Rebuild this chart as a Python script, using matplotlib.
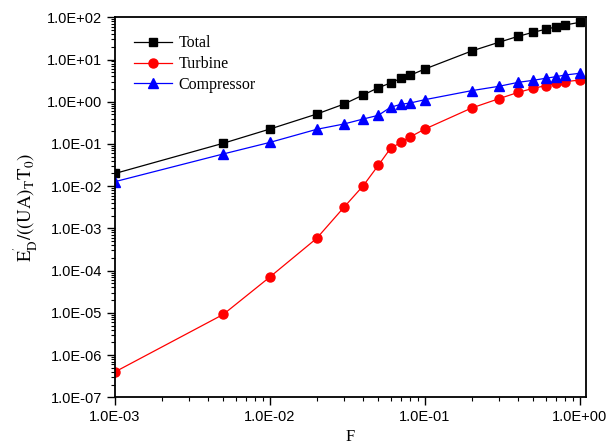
import numpy as np
import matplotlib
matplotlib.use('Agg')
import matplotlib.pyplot as plt
from matplotlib.ticker import LogLocator, FuncFormatter, NullFormatter

# Data
F = [0.001, 0.005, 0.01, 0.02, 0.03, 0.04, 0.05, 0.06, 0.07, 0.08,
     0.1, 0.2, 0.3, 0.4, 0.5, 0.6, 0.7, 0.8, 1.0]
total = [0.020, 0.104, 0.226, 0.51, 0.88, 1.45, 2.15, 2.78, 3.59, 4.23,
         5.96, 15.9, 25.6, 35.5, 44.2, 52.0, 59.0, 65.8, 76.0]
turbine = [4.0e-7, 9.2e-6, 7.1e-5, 5.8e-4, 3.16e-3, 0.0103, 0.0312, 0.079,
           0.109, 0.146, 0.226, 0.71, 1.18, 1.67, 2.08, 2.40, 2.73, 2.98, 3.27]
compressor = [0.0128, 0.058, 0.109, 0.222, 0.297, 0.39, 0.477, 0.74, 0.87,
              0.93, 1.12, 1.83, 2.32, 2.88, 3.22, 3.59, 3.92, 4.29, 4.72]

plt.rcParams['mathtext.fontset'] = 'stix'

fig = plt.figure(figsize=(6.16, 4.48), dpi=100)
ax = fig.add_axes([0.1867, 0.1132, 0.7639, 0.8482])

ax.plot(F, total, color='black', lw=0.9, marker='s', ms=5.5, label='Total')
ax.plot(F, turbine, color='red', lw=0.9, marker='o', ms=6.5, label='Turbine')
ax.plot(F, compressor, color='blue', lw=0.9, marker='^', ms=6.5, label='Compressor')

ax.set_xscale('log')
ax.set_yscale('log')
ax.set_xlim(1e-3, 1.087)
ax.set_ylim(1e-7, 1e2)

fmt = FuncFormatter(lambda v, pos: f"{v:.1E}")
ax.xaxis.set_major_locator(LogLocator(base=10, numticks=10))
ax.yaxis.set_major_locator(LogLocator(base=10, numticks=12))
ax.xaxis.set_major_formatter(fmt)
ax.yaxis.set_major_formatter(fmt)
for a in (ax.xaxis, ax.yaxis):
    a.set_minor_locator(LogLocator(base=10, subs=np.arange(2, 10), numticks=12))
    a.set_minor_formatter(NullFormatter())

ax.tick_params(which='major', direction='out', length=5.5, width=1.0, pad=4,
               labelsize=10.5, top=False, right=False)
ax.tick_params(which='minor', direction='out', length=3, width=0.8,
               top=False, right=False)
for lbl in ax.get_xticklabels() + ax.get_yticklabels():
    lbl.set_fontfamily('Liberation Sans')
for s in ax.spines.values():
    s.set_linewidth(1.3)

ax.set_xlabel('F', fontsize=12, family='Liberation Serif', labelpad=3)
ax.set_ylabel(r"$\mathrm{E}_{\mathrm{D}}^{'}/((\mathrm{UA})_{\mathrm{T}}\mathrm{T}_{0})$",
              fontsize=13.5, labelpad=5)

ax.legend(loc='upper left', bbox_to_anchor=(0.01, 0.99), frameon=False,
          prop={'family': 'Liberation Serif', 'size': 11.5},
          handlelength=2.4, handletextpad=0.4, labelspacing=0.3)

fig.savefig('out.png', dpi=100)
